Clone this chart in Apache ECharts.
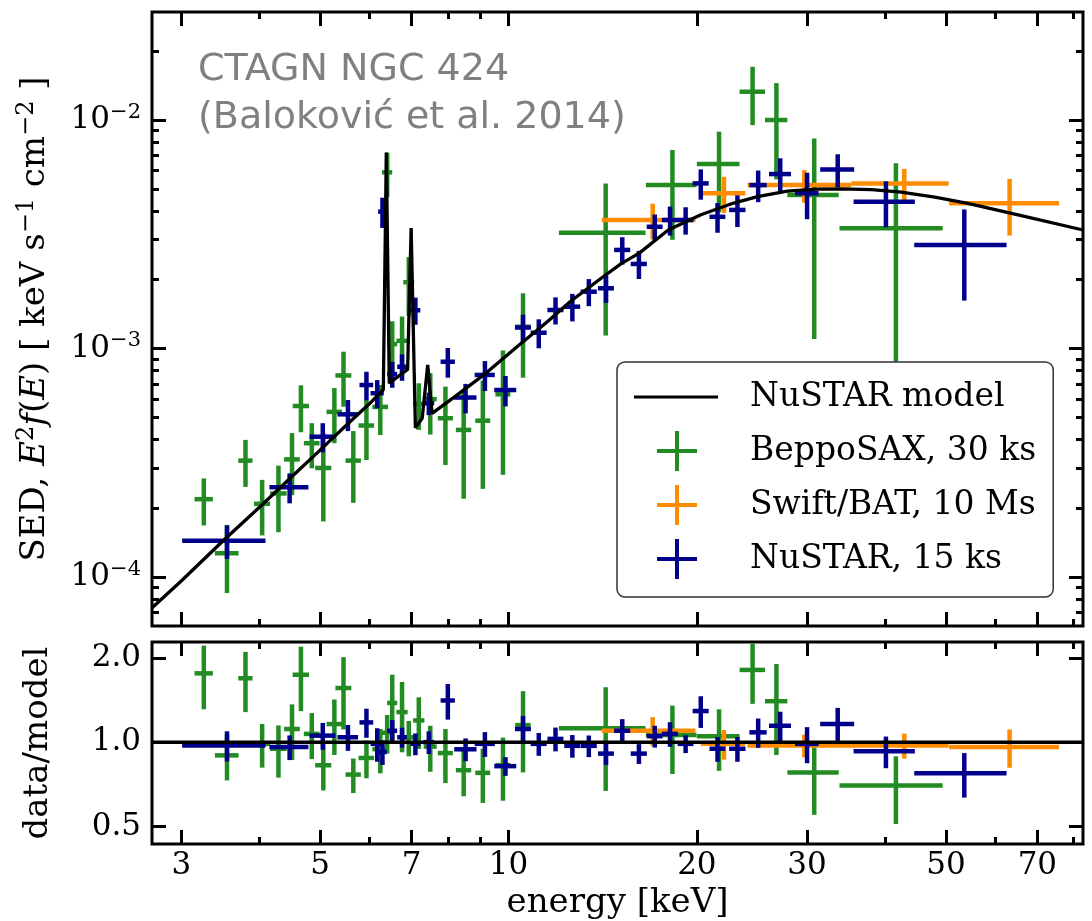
<!DOCTYPE html>
<html>
<head>
<meta charset="utf-8">
<script src="https://cdn.jsdelivr.net/npm/echarts@6/dist/echarts.min.js"></script>
<style>
  html, body { margin: 0; padding: 0; background: #fff; }
  #chart { width: 1092px; height: 921px; }
</style>
</head>
<body>
<div id="chart"></div>
<script>
// ---- axis ticks and ranges ----
const energyTicks = [3, 5, 7, 10, 20, 30, 50, 70];
const energyMinorTicks = [4, 6, 8, 9, 40, 60, 80];
const sedTicks = [1e-4, 1e-3, 1e-2];
const ratioTicks = [0.5, 1.0, 2.0];
const energyRange = [2.694, 82.8];      // keV
const sedRange = [6.1e-5, 2.97e-2];     // keV s^-1 cm^-2
const ratioRange = [0.433, 2.277];

// ---- NuSTAR best-fit model, E^2 f(E) ----
const modelEnergy = [2.69, 3.0, 3.5, 4.0, 4.5, 5.0, 5.5, 6.0, 6.31, 6.38, 6.45, 6.90, 6.99, 7.10, 7.28, 7.43, 7.55,
  8.2, 9.13, 10.33, 11.5, 12.57, 14.03, 15.1, 16.2, 18.0, 20.3, 22.9, 25.0, 27.9, 31.0, 34.0, 38.0, 42.4, 48.0, 54.2, 65.2, 82.8];
const modelFlux = [7.3e-5, 9.6e-5, 1.44e-4, 2.02e-4, 2.74e-4, 3.59e-4, 4.6e-4, 5.74e-4, 6.6e-4, 7.2e-3, 7.05e-4, 8.1e-4, 3.37e-3, 4.5e-4, 4.95e-4, 8.47e-4, 5.2e-4,
  6.14e-4, 7.66e-4, 1.02e-3, 1.30e-3, 1.61e-3, 2.02e-3, 2.34e-3, 2.62e-3, 3.3e-3, 3.85e-3, 4.33e-3, 4.62e-3, 4.88e-3, 4.98e-3, 5.0e-3, 4.96e-3, 4.83e-3, 4.6e-3, 4.32e-3, 3.84e-3, 3.3e-3];

// ---- BeppoSAX, 30 ks ----
const saxEnergy = [3.26, 3.55, 3.80, 4.04, 4.29, 4.51, 4.66, 4.85, 5.06, 5.27, 5.45, 5.65, 5.93, 6.24, 6.40, 6.52, 6.76, 6.93, 7.19, 7.50,
  7.93, 8.48, 9.10, 9.80, 10.55, 14.3, 18.28, 21.7, 24.55, 26.8, 30.8, 41.6];
const saxEnergyErr = [0.11, 0.155, 0.10, 0.12, 0.13, 0.13, 0.14, 0.14, 0.15, 0.15, 0.16, 0.16, 0.17, 0.18, 0.12, 0.12, 0.14, 0.14, 0.15, 0.18,
  0.22, 0.24, 0.25, 0.27, 0.30, 2.26, 1.7, 1.7, 1.15, 1.1, 2.9, 7.8];
const saxFlux = [2.19e-4, 1.27e-4, 3.23e-4, 2.09e-4, 2.32e-4, 3.27e-4, 5.60e-4, 3.85e-4, 3.0e-4, 5.28e-4, 7.62e-4, 3.23e-4, 4.60e-4, 5.55e-4, 5.9e-3, 1.045e-3, 1.08e-3, 1.95e-3, 5.72e-4, 6.0e-4,
  4.95e-4, 4.40e-4, 4.83e-4, 6.3e-4, 1.245e-3, 3.21e-3, 5.19e-3, 6.42e-3, 1.33e-2, 1.0e-2, 4.70e-3, 3.36e-3];
const saxFluxErr = [0.51e-4, 0.42e-4, 0.75e-4, 0.57e-4, 0.75e-4, 0.99e-4, 1.3e-4, 0.86e-4, 1.25e-4, 1.43e-4, 2.06e-4, 1.12e-4, 1.35e-4, 1.37e-4, 1.3e-3, 0.27e-3, 0.30e-3, 0.56e-3, 1.32e-4, 1.8e-4,
  1.86e-4, 2.2e-4, 2.4e-4, 3.5e-4, 0.5e-3, 2.07e-3, 2.2e-3, 2.47e-3, 3.8e-3, 4.5e-3, 3.6e-3, 3.1e-3];
const saxRatio = [1.76, 0.897, 1.69, 0.986, 0.947, 1.114, 1.74, 1.07, 0.827, 1.16, 1.56, 0.766, 0.878, 0.944, 1.08, 1.38, 1.28, 1.04, 1.195, 0.964,
  0.914, 0.794, 0.777, 0.828, 1.15, 1.12, 1.06, 1.05, 1.81, 1.40, 0.78, 0.70];
const saxRatioErr = [0.45, 0.167, 0.41, 0.175, 0.20, 0.25, 0.45, 0.20, 0.155, 0.26, 0.45, 0.108, 0.135, 0.17, 0.17, 0.36, 0.36, 0.15, 0.25, 0.18,
  0.20, 0.153, 0.17, 0.21, 0.37, 0.45, 0.29, 0.26, 0.44, 0.50, 0.23, 0.19];

// ---- Swift/BAT, 10 Ms ----
const batEnergy = [17.0, 22.1, 29.7, 42.9, 63.2];
const batEnergyErr = [2.9, 1.8, 5.6, 7.6, 12.6];
const batFlux = [3.65e-3, 4.78e-3, 5.19e-3, 5.28e-3, 4.32e-3];
const batFluxErr = [0.65e-3, 0.86e-3, 0.85e-3, 0.83e-3, 1.2e-3];
const batRatio = [1.098, 0.986, 0.973, 0.973, 0.960];
const batRatioErr = [0.13, 0.12, 0.09, 0.10, 0.15];

// ---- NuSTAR, 15 ks ----
const nuEnergy = [3.55, 4.47, 5.05, 5.54, 5.93, 6.17, 6.29, 6.52, 6.76, 7.10, 7.46, 8.00, 8.54, 9.17, 9.89, 10.55, 11.18, 11.89, 12.65, 13.44,
  14.32, 15.20, 16.16, 17.13, 18.12, 19.19, 20.29, 21.58, 23.22, 25.06, 27.18, 30.0, 33.58, 40.1, 53.5];
const nuEnergyErr = [0.54, 0.32, 0.24, 0.21, 0.15, 0.15, 0.10, 0.12, 0.12, 0.13, 0.15, 0.21, 0.35, 0.34, 0.40, 0.31, 0.33, 0.35, 0.37, 0.40,
  0.42, 0.45, 0.48, 0.50, 0.53, 0.56, 0.60, 0.63, 0.70, 0.80, 1.1, 1.3, 2.1, 4.5, 9.0];
const nuFlux = [1.44e-4, 2.47e-4, 4.11e-4, 5.15e-4, 6.92e-4, 6.37e-4, 3.97e-3, 7.73e-4, 8.32e-4, 1.47e-3, 5.76e-4, 8.75e-4, 6.10e-4, 7.66e-4, 6.58e-4, 1.235e-3, 1.172e-3, 1.474e-3, 1.524e-3, 1.772e-3,
  1.834e-3, 2.70e-3, 2.344e-3, 3.41e-3, 3.65e-3, 3.65e-3, 5.28e-3, 3.77e-3, 4.04e-3, 5.19e-3, 5.80e-3, 4.78e-3, 6.08e-3, 4.39e-3, 2.84e-3];
const nuFluxErr = [0.24e-4, 0.37e-4, 0.60e-4, 0.80e-4, 0.99e-4, 0.90e-4, 0.60e-3, 1.0e-4, 1.1e-4, 0.20e-3, 0.65e-4, 1.3e-4, 0.9e-4, 1.15e-4, 1.0e-4, 0.17e-3, 0.17e-3, 0.20e-3, 0.21e-3, 0.24e-3,
  0.25e-3, 0.37e-3, 0.33e-3, 0.45e-3, 0.53e-3, 0.50e-3, 0.80e-3, 0.56e-3, 0.64e-3, 0.82e-3, 1.0e-3, 1.1e-3, 1.0e-3, 1.0e-3, 1.22e-3];
const nuRatio = [0.973, 0.960, 1.055, 1.041, 1.176, 0.986, 0.922, 1.098, 1.041, 0.986, 1.0, 1.408, 0.943, 0.986, 0.821, 1.114, 0.986, 1.027, 0.970, 0.970,
  0.910, 1.098, 0.910, 1.05, 1.07, 0.986, 1.291, 0.947, 0.947, 1.084, 1.144, 0.986, 1.16, 0.927, 0.774];
const nuRatioErr = [0.12, 0.097, 0.116, 0.11, 0.14, 0.135, 0.093, 0.10, 0.085, 0.088, 0.093, 0.205, 0.088, 0.10, 0.063, 0.126, 0.092, 0.10, 0.09, 0.086,
  0.081, 0.11, 0.074, 0.094, 0.108, 0.072, 0.167, 0.096, 0.096, 0.13, 0.14, 0.145, 0.165, 0.12, 0.14];

// ---- drawing ----
const SERIF = 'DejaVu Serif';
const GREEN = '#228B22', ORANGE = '#FF8C00', NAVY = '#00008B';
const lg = Math.log10;
const xMin = lg(energyRange[0]), xMax = lg(energyRange[1]);
const yMin = lg(sedRange[0]), yMax = lg(sedRange[1]);
const rMin = lg(ratioRange[0]), rMax = lg(ratioRange[1]);

function minorLogTicks(lo, hi) {
  const out = [];
  for (let d = Math.floor(lg(lo)); d <= Math.ceil(lg(hi)); d++) {
    for (let m = 2; m <= 9; m++) {
      const v = m * Math.pow(10, d);
      if (v > lo && v < hi) out.push(v);
    }
  }
  return out;
}

const tickLine = { color: '#000', width: 3 };

function xAxisDef(grid, position, values, len, label) {
  const ax = {
    type: 'value', gridIndex: grid, position: position, min: xMin, max: xMax,
    axisLine: { show: false, onZero: false }, splitLine: { show: false },
    axisTick: { show: true, inside: true, length: len, lineStyle: tickLine, customValues: values.map(lg) },
    axisLabel: { show: false }
  };
  if (label) {
    ax.axisLabel = {
      show: true, customValues: values.map(lg), margin: 6, color: '#000',
      fontFamily: SERIF, fontSize: 31,
      formatter: v => String(Math.round(Math.pow(10, v)))
    };
    ax.name = 'energy [keV]';
    ax.nameLocation = 'middle';
    ax.nameGap = 42;
    ax.nameTextStyle = { fontFamily: SERIF, fontSize: 34, color: '#000' };
  }
  return ax;
}

function yAxisDef(grid, position, min, max, values, len) {
  return {
    type: 'value', gridIndex: grid, position: position, min: min, max: max,
    axisLine: { show: false, onZero: false }, splitLine: { show: false },
    axisTick: { show: true, inside: true, length: len, lineStyle: tickLine, customValues: values.map(lg) },
    axisLabel: { show: false }
  };
}

const sedMinor = minorLogTicks(sedRange[0], sedRange[1]);

const xAxes = [
  xAxisDef(0, 'bottom', energyTicks, 14, false),
  xAxisDef(0, 'top', energyTicks, 14, false),
  xAxisDef(0, 'bottom', energyMinorTicks, 7, false),
  xAxisDef(0, 'top', energyMinorTicks, 7, false),
  xAxisDef(1, 'bottom', energyTicks, 14, true),
  xAxisDef(1, 'top', energyTicks, 14, false),
  xAxisDef(1, 'bottom', energyMinorTicks, 7, false),
  xAxisDef(1, 'top', energyMinorTicks, 7, false)
];

const sedLeft = yAxisDef(0, 'left', yMin, yMax, sedTicks, 14);
sedLeft.axisLabel = {
  show: true, customValues: sedTicks.map(lg), margin: 11,
  formatter: v => '{b|10}{s|' + String(Math.round(v)).replace('-', '\u2212') + '}',
  rich: {
    b: { fontFamily: SERIF, fontSize: 31, color: '#000', lineHeight: 36 },
    s: { fontFamily: SERIF, fontSize: 21, color: '#000', verticalAlign: 'top', lineHeight: 18 }
  }
};
sedLeft.name = 'SED, {i|E}{s|2}{i|f}({i|E}) [ keV s{s|\u22121} cm{s|\u22122} ]';
sedLeft.nameLocation = 'middle';
sedLeft.nameRotate = 90;
sedLeft.nameGap = 97;
sedLeft.nameTextStyle = {
  fontFamily: SERIF, fontSize: 34, color: '#000', lineHeight: 40,
  rich: {
    i: { fontFamily: SERIF, fontStyle: 'italic', fontSize: 34, color: '#000', lineHeight: 40 },
    s: { fontFamily: SERIF, fontSize: 24, color: '#000', verticalAlign: 'top', lineHeight: 22 }
  }
};

const ratioLeft = yAxisDef(1, 'left', rMin, rMax, ratioTicks, 14);
ratioLeft.axisLabel = {
  show: true, customValues: ratioTicks.map(lg), margin: 11, color: '#000',
  fontFamily: SERIF, fontSize: 31,
  formatter: v => Math.pow(10, v).toFixed(1)
};
ratioLeft.name = 'data/model';
ratioLeft.nameLocation = 'middle';
ratioLeft.nameRotate = 90;
ratioLeft.nameGap = 97;
ratioLeft.nameTextStyle = { fontFamily: SERIF, fontSize: 34, color: '#000' };

const yAxes = [
  sedLeft,
  yAxisDef(0, 'right', yMin, yMax, sedTicks, 14),
  yAxisDef(0, 'left', yMin, yMax, sedMinor, 7),
  yAxisDef(0, 'right', yMin, yMax, sedMinor, 7),
  ratioLeft,
  yAxisDef(1, 'right', rMin, rMax, ratioTicks, 14)
];

// error-bar crosses: horizontal energy bin and vertical uncertainty
function crossSeries(name, color, E, dE, Y, dY, xi, yi, floorLog) {
  const data = E.map((e, i) => {
    const lo = Y[i] - dY[i];
    return [lg(e), lg(Y[i]), lg(e - dE[i]), lg(e + dE[i]), lo > 0 ? lg(lo) : floorLog, lg(Y[i] + dY[i])];
  });
  return {
    type: 'custom', name: name, xAxisIndex: xi, yAxisIndex: yi, clip: true,
    itemStyle: { color: color },
    encode: { x: [0, 2, 3], y: [1, 4, 5] },
    renderItem: function (params, api) {
      const c = api.coord([api.value(0), api.value(1)]);
      const l = api.coord([api.value(2), api.value(1)]);
      const r = api.coord([api.value(3), api.value(1)]);
      const b = api.coord([api.value(0), api.value(4)]);
      const t = api.coord([api.value(0), api.value(5)]);
      const style = { stroke: api.visual('color'), lineWidth: 4.5, fill: null };
      return {
        type: 'group',
        children: [
          { type: 'line', shape: { x1: l[0], y1: c[1], x2: r[0], y2: c[1] }, style: style },
          { type: 'line', shape: { x1: c[0], y1: b[1], x2: c[0], y2: t[1] }, style: style }
        ]
      };
    },
    data: data
  };
}

const NAMES = {
  model: 'NuSTAR model',
  sax: 'BeppoSAX, 30 ks',
  bat: 'Swift/BAT, 10 Ms',
  nu: 'NuSTAR, 15 ks'
};

const series = [
  crossSeries(NAMES.sax, GREEN, saxEnergy, saxEnergyErr, saxFlux, saxFluxErr, 0, 0, yMin - 1),
  crossSeries(NAMES.bat, ORANGE, batEnergy, batEnergyErr, batFlux, batFluxErr, 0, 0, yMin - 1),
  crossSeries(NAMES.nu, NAVY, nuEnergy, nuEnergyErr, nuFlux, nuFluxErr, 0, 0, yMin - 1),
  {
    type: 'line', name: NAMES.model, xAxisIndex: 0, yAxisIndex: 0,
    data: modelEnergy.map((e, i) => [lg(e), lg(modelFlux[i])]),
    showSymbol: false, symbol: 'none', color: '#000',
    lineStyle: { color: '#000', width: 3.3 }, z: 3
  },
  crossSeries(NAMES.sax, GREEN, saxEnergy, saxEnergyErr, saxRatio, saxRatioErr, 4, 4, rMin - 1),
  crossSeries(NAMES.bat, ORANGE, batEnergy, batEnergyErr, batRatio, batRatioErr, 4, 4, rMin - 1),
  crossSeries(NAMES.nu, NAVY, nuEnergy, nuEnergyErr, nuRatio, nuRatioErr, 4, 4, rMin - 1),
  {
    type: 'line', name: 'model ratio', xAxisIndex: 4, yAxisIndex: 4,
    data: [[xMin, 0], [xMax, 0]],
    showSymbol: false, symbol: 'none', color: '#000',
    lineStyle: { color: '#000', width: 3.5 }, z: 3
  }
];

const lineIcon = 'path://M0,0M111,40M0,18.5H84V21.5H0Z';
const crossIcon = 'path://M0,0M111,40M23,18H63V22H23ZM41,0H45V40H41Z';

const option = {
  animation: false,
  backgroundColor: '#fff',
  textStyle: { fontFamily: SERIF },
  grid: [
    { left: 152, right: 9, top: 12, height: 614, show: true, borderColor: '#000', borderWidth: 3, backgroundColor: 'transparent' },
    { left: 152, right: 9, top: 642, height: 205, show: true, borderColor: '#000', borderWidth: 3, backgroundColor: 'transparent' }
  ],
  xAxis: xAxes,
  yAxis: yAxes,
  legend: {
    orient: 'vertical', left: 617, top: 362,
    padding: [15, 17, 18, 17], itemGap: 14, itemWidth: 111, itemHeight: 40,
    backgroundColor: '#fff', borderColor: '#333', borderWidth: 1.5, borderRadius: 8,
    selectedMode: false,
    itemStyle: { borderWidth: 0 },
    textStyle: { fontFamily: SERIF, fontSize: 33, color: '#000' },
    data: [
      { name: NAMES.model, icon: lineIcon },
      { name: NAMES.sax, icon: crossIcon },
      { name: NAMES.bat, icon: crossIcon },
      { name: NAMES.nu, icon: crossIcon }
    ]
  },
  graphic: [
    {
      type: 'text', left: 198, top: 46, z: 10,
      style: {
        text: 'CTAGN NGC 424\n(Baloković et al. 2014)',
        fill: '#808080', fontFamily: 'DejaVu Sans', fontSize: 38, lineHeight: 48
      }
    }
  ],
  series: series
};

const chart = echarts.init(document.getElementById('chart'));
chart.setOption(option);
</script>
</body>
</html>
